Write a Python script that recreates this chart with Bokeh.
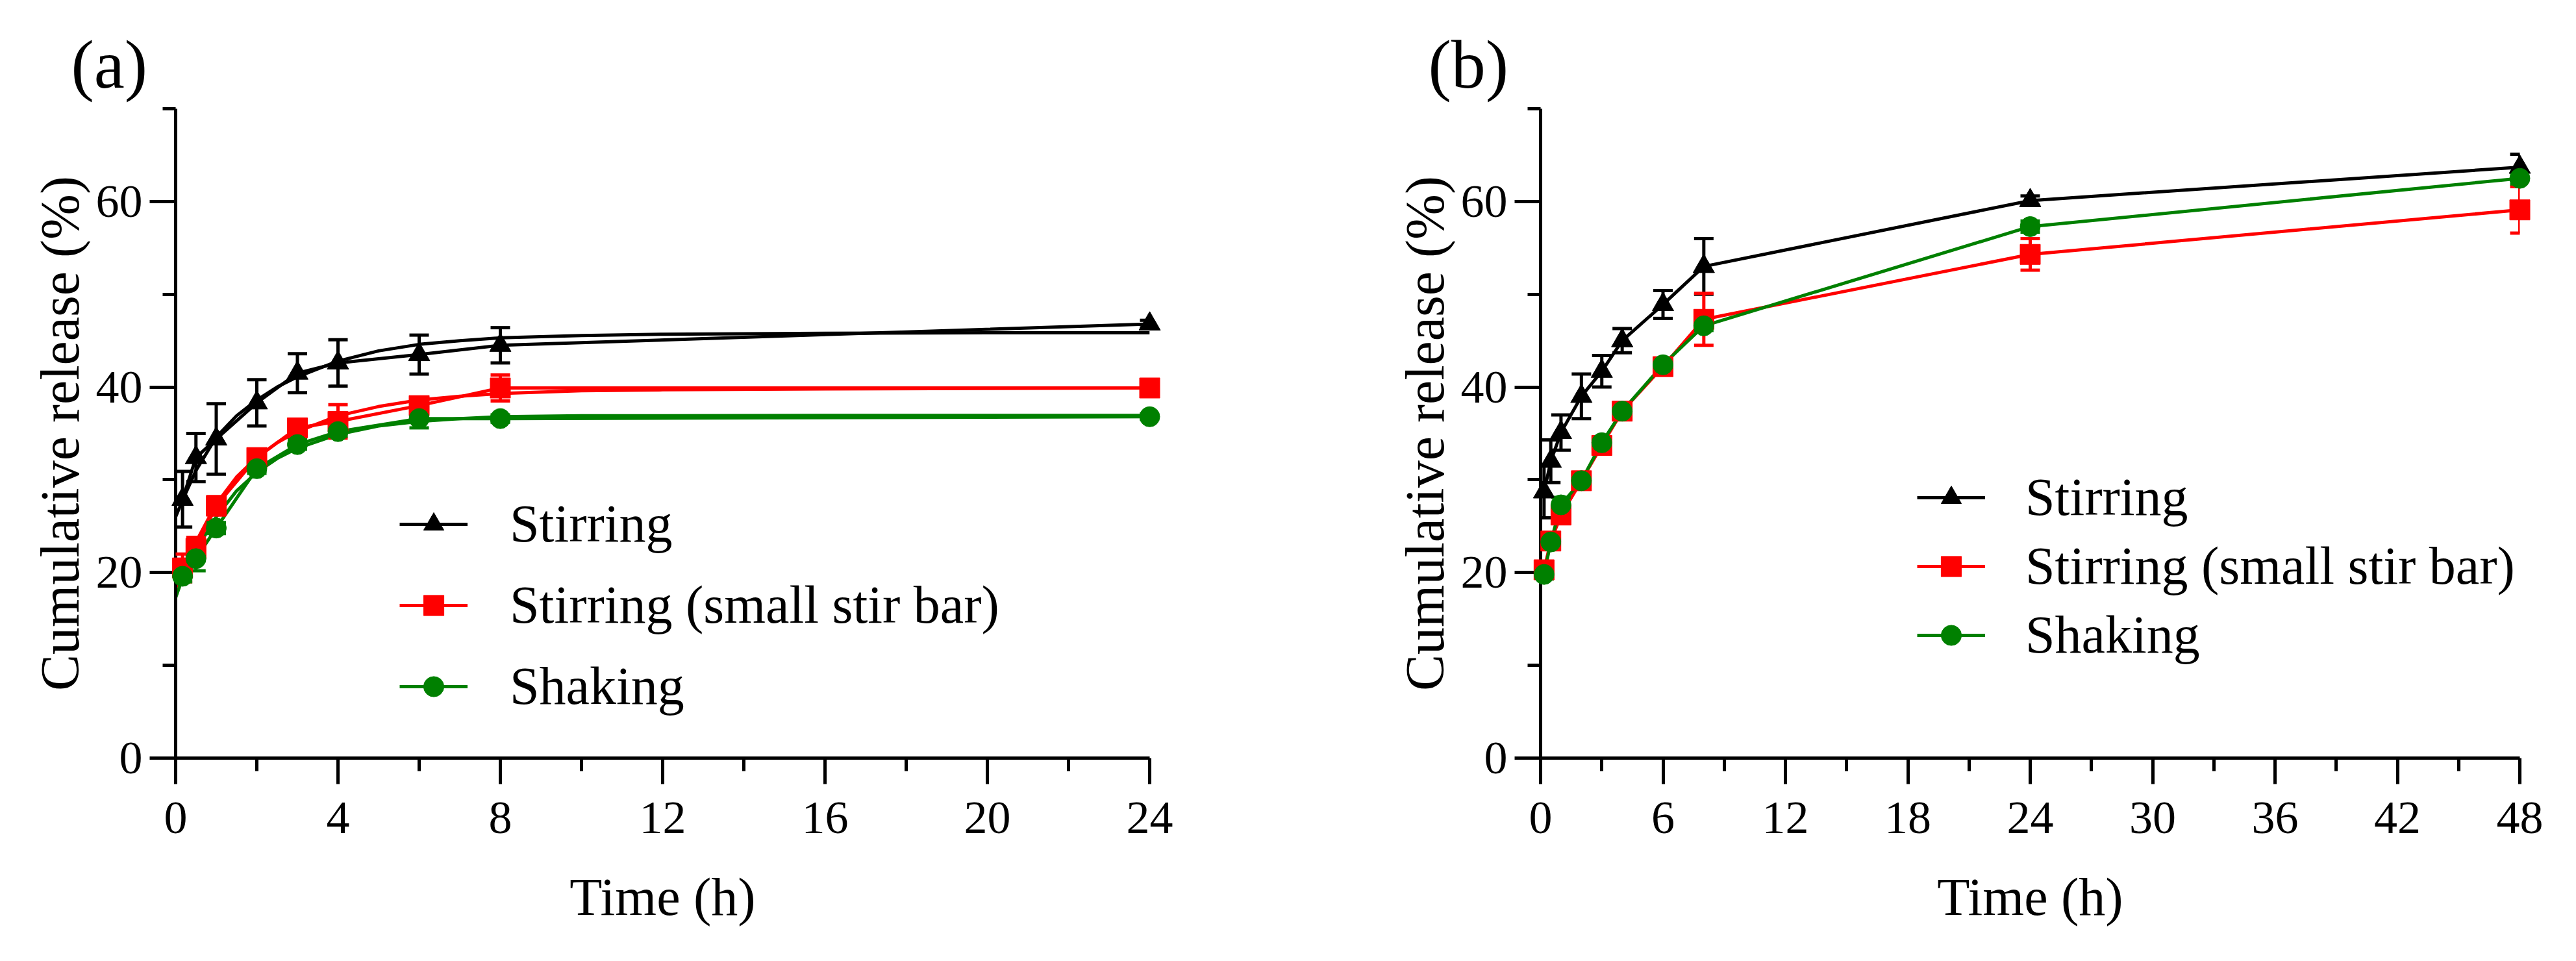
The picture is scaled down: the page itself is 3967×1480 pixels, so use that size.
from bokeh.plotting import figure
from bokeh.layouts import row
from bokeh.models import (ColumnDataSource, Range1d, FixedTicker, Whisker, TeeHead,
                          Legend, LegendItem)
from bokeh.embed import file_html
from bokeh.resources import INLINE

FONT = "Liberation Serif"
BLACK, RED, GREEN = "#000000", "#ff0000", "#008000"
labels = ["Stirring", "Stirring (small stir bar)", "Shaking"]

# ---- panel (a) data: 0-24 h ----
t_a = [0.17, 0.5, 1, 2, 3, 4, 6, 8, 24]
stir_a = [27.9, 32.4, 34.4, 38.3, 41.5, 42.6, 43.5, 44.5, 46.8]
stir_a_err = [3.0, 2.6, 3.8, 2.5, 2.1, 2.5, 2.1, 1.9, 0.4]
small_a = [20.5, 22.6, 27.2, 32.4, 35.6, 36.3, 38.0, 39.9, 39.9]
small_a_err = [1.5, 1.2, 1.0, 0.6, 0.5, 1.8, 0.7, 1.4, 0.3]
shake_a = [19.6, 21.5, 24.8, 31.2, 33.8, 35.2, 36.6, 36.6, 36.8]
shake_a_err = [0.6, 1.3, 0.6, 0.5, 0.5, 0.5, 1.0, 0.4, 0.3]

# fitted curves in panel (a)
fit_t = [0, 0.17, 0.5, 1, 1.5, 2, 2.5, 3, 4, 5, 6, 7, 8, 10, 12, 16, 20, 24]
stir_fit = [26.0, 27.8, 31.0, 34.6, 36.9, 38.6, 40.0, 41.1, 42.8, 43.9, 44.6, 45.0,
            45.3, 45.55, 45.7, 45.8, 45.85, 45.85]
small_fit = [18.3, 20.2, 23.3, 27.4, 30.3, 32.4, 34.0, 35.2, 36.9, 37.9, 38.6, 39.0,
             39.3, 39.6, 39.7, 39.8, 39.85, 39.9]
shake_fit = [17.3, 19.4, 22.4, 26.0, 28.8, 30.8, 32.3, 33.4, 34.9, 35.8, 36.3, 36.6,
             36.8, 36.9, 36.9, 36.95, 36.95, 36.95]

# ---- panel (b) data: 0-48 h ----
t_b = [0.17, 0.5, 1, 2, 3, 4, 6, 8, 24, 48]
stir_b = [28.7, 32.0, 35.1, 39.0, 41.7, 45.0, 48.9, 53.0, 60.1, 63.7]
stir_b_err = [2.8, 2.3, 1.9, 2.4, 1.7, 1.3, 1.5, 3.0, 0.5, 1.4]
small_b = [20.3, 23.4, 26.2, 29.9, 33.7, 37.4, 42.2, 47.3, 54.3, 59.1]
small_b_err = [0.8, 0.6, 0.6, 0.5, 0.6, 0.6, 0.6, 2.8, 1.7, 2.5]
shake_b = [19.8, 23.3, 27.3, 29.9, 34.0, 37.4, 42.4, 46.6, 57.3, 62.5]
shake_b_err = [0.5, 0.5, 0.8, 0.5, 0.5, 0.5, 0.5, 0.5, 0.6, 0.6]

y_ticks = [0, 20, 40, 60]
y_minor = [10, 30, 50, 70]


def make_panel(letter, letter_dx, xmax, xticks, xminor, frame_w, left, right):
    p = figure(frame_width=frame_w, frame_height=1000,
               min_border_left=left, min_border_right=right,
               min_border_top=167, min_border_bottom=297,
               x_range=Range1d(0, xmax), y_range=Range1d(0, 70),
               toolbar_location=None, output_backend="svg")
    p.outline_line_color = None
    p.grid.grid_line_color = None
    p.xaxis.ticker = FixedTicker(ticks=xticks, minor_ticks=xminor)
    p.yaxis.ticker = FixedTicker(ticks=y_ticks, minor_ticks=y_minor)
    p.xaxis.axis_label = "Time (h)"
    p.yaxis.axis_label = "Cumulative release (%)"
    for ax in (p.xaxis, p.yaxis):
        ax.axis_line_width = 5
        ax.major_tick_line_width = 5
        ax.minor_tick_line_width = 5
        ax.major_tick_in = 0
        ax.minor_tick_in = 0
        ax.major_tick_out = 40
        ax.minor_tick_out = 20
        ax.major_label_text_font = FONT
        ax.major_label_text_font_size = "72px"
        ax.major_label_text_color = "black"
        ax.axis_label_text_font = FONT
        ax.axis_label_text_font_style = "normal"
        ax.axis_label_text_color = "black"
    p.xaxis.axis_label_text_font_size = "82px"
    p.yaxis.axis_label_text_font_size = "84px"
    p.xaxis.major_label_standoff = 28
    p.xaxis.axis_label_standoff = 50
    p.yaxis.major_label_standoff = 11
    p.yaxis.axis_label_standoff = 6

    # panel letter as the title, pulled to the left of the frame
    p.title.text = letter
    p.title.align = "left"
    p.title.offset = letter_dx
    p.title.standoff = 20
    p.title.text_font = FONT
    p.title.text_font_size = "106px"
    p.title.text_font_style = "normal"
    p.title.text_color = "black"
    return p


def add_series(p, t, y, err, color, marker, label, items):
    src = ColumnDataSource(dict(t=t, y=y,
                                lo=[a - b for a, b in zip(y, err)],
                                hi=[a + b for a, b in zip(y, err)]))
    w = Whisker(source=src, base="t", lower="lo", upper="hi", dimension="height",
                line_color=color, line_width=5, level="annotation",
                upper_head=TeeHead(size=30, line_color=color, line_width=5),
                lower_head=TeeHead(size=30, line_color=color, line_width=5))
    p.add_layout(w)
    ln = p.line("t", "y", source=src, line_color=color, line_width=5)
    mk = p.scatter("t", "y", source=src, marker=marker,
                   size=33 if marker == "triangle" else 31,
                   fill_color=color, line_color=color, line_width=1)
    mk.level = "overlay"
    items.append(LegendItem(label=label, renderers=[ln, mk]))


def finish_legend(p, items, loc, spacing, standoff):
    leg = Legend(items=items, location=loc, label_text_font=FONT,
                 label_text_font_size="82px", label_text_color="black",
                 glyph_width=105, glyph_height=78, label_standoff=standoff,
                 spacing=spacing, padding=0, margin=0,
                 border_line_alpha=0, background_fill_alpha=0)
    p.add_layout(leg)


# panel (a)
pa = make_panel("(a)", -161, 24, [0, 4, 8, 12, 16, 20, 24], [2, 6, 10, 14, 18, 22],
                1500, 270, 210)
for yf, c in ((stir_fit, BLACK), (small_fit, RED), (shake_fit, GREEN)):
    pa.line(fit_t, yf, line_color=c, line_width=5)
items_a = []
add_series(pa, t_a, stir_a, stir_a_err, BLACK, "triangle", labels[0], items_a)
add_series(pa, t_a, small_a, small_a_err, RED, "square", labels[1], items_a)
add_series(pa, t_a, shake_a, shake_a_err, GREEN, "circle", labels[2], items_a)
finish_legend(pa, items_a, (345, 63), 31, 65)

# panel (b)
pb = make_panel("(b)", -173, 48, [0, 6, 12, 18, 24, 30, 36, 42, 48],
                [3, 9, 15, 21, 27, 33, 39, 45], 1508, 392, 71)
items_b = []
add_series(pb, t_b, stir_b, stir_b_err, BLACK, "triangle", labels[0], items_b)
add_series(pb, t_b, small_b, small_b_err, RED, "square", labels[1], items_b)
add_series(pb, t_b, shake_b, shake_b_err, GREEN, "circle", labels[2], items_b)
finish_legend(pb, items_b, (580, 142), 12, 62)

layout = row(pa, pb)
open("out.html", "w").write(file_html(layout, INLINE))
